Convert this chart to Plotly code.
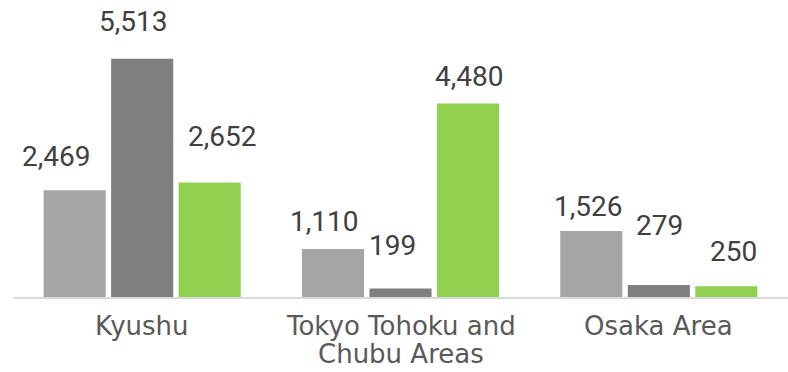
import plotly.graph_objects as go

# Regional figures per area, three series each
categories = ["Kyushu", "Tokyo Tohoku and Chubu Areas", "Osaka Area"]
category_lines = [["Kyushu"], ["Tokyo Tohoku and", "Chubu Areas"], ["Osaka Area"]]
series_a = [2469, 1110, 1526]
series_b = [5513, 199, 279]
series_c = [2652, 4480, 250]

colors = ["#A5A5A5", "#7F7F7F", "#92D050"]

# Hand-placed label nudges (px) for each series / category: (dx, dy above bar top)
label_nudges = [
    [(-19, 34), (-9, 28), (-3, 25)],
    [(-9, 37), (-8, 43), (1, 59)],
    [(12, 46), (1, 27), (7, 35)],
]

SLOT_PX = 67.5      # horizontal spacing between bars in a group
CAT_FIRST = 29      # px from axis line to first category line centre
CAT_LEADING = 28    # px between category label lines

fig = go.Figure()
all_series = [series_a, series_b, series_c]
for j, (vals, col) in enumerate(zip(all_series, colors)):
    fig.add_trace(go.Bar(
        x=categories, y=vals, marker=dict(color=col, line=dict(width=0)),
        hoverinfo="skip", showlegend=False,
    ))

annotations = []
for j, vals in enumerate(all_series):
    for i, v in enumerate(vals):
        dx, dy = label_nudges[j][i]
        annotations.append(dict(
            x=categories[i], y=v, xref="x", yref="y",
            text=f"{v:,}", showarrow=False,
            xanchor="center", yanchor="middle",
            xshift=(j - 1) * SLOT_PX + dx, yshift=dy,
            font=dict(family="Roboto", size=28, color="#404040"),
        ))

# Category names under the axis, one text per line for tighter leading
for i, lines in enumerate(category_lines):
    for k, line in enumerate(lines):
        annotations.append(dict(
            x=categories[i], y=0, xref="x", yref="paper",
            text=line, showarrow=False,
            xanchor="center", yanchor="middle",
            yshift=-(CAT_FIRST + CAT_LEADING * k),
            font=dict(family="DejaVu Sans", size=26, color="#595959"),
        ))

fig.update_layout(
    width=788, height=372,
    margin=dict(l=13, r=0, t=0, b=75, autoexpand=False),
    paper_bgcolor="white", plot_bgcolor="white",
    barmode="group", bargap=0.216, bargroupgap=0.08,
    annotations=annotations,
    xaxis=dict(
        showline=True, linecolor="#D9D9D9", linewidth=2,
        showgrid=False, zeroline=False, automargin=False,
        showticklabels=False, ticks="",
        fixedrange=True,
    ),
    yaxis=dict(
        range=[0, 6875], visible=False, showgrid=False, zeroline=False,
        fixedrange=True,
    ),
)

fig.write_html("out.html", config={"displayModeBar": False})
